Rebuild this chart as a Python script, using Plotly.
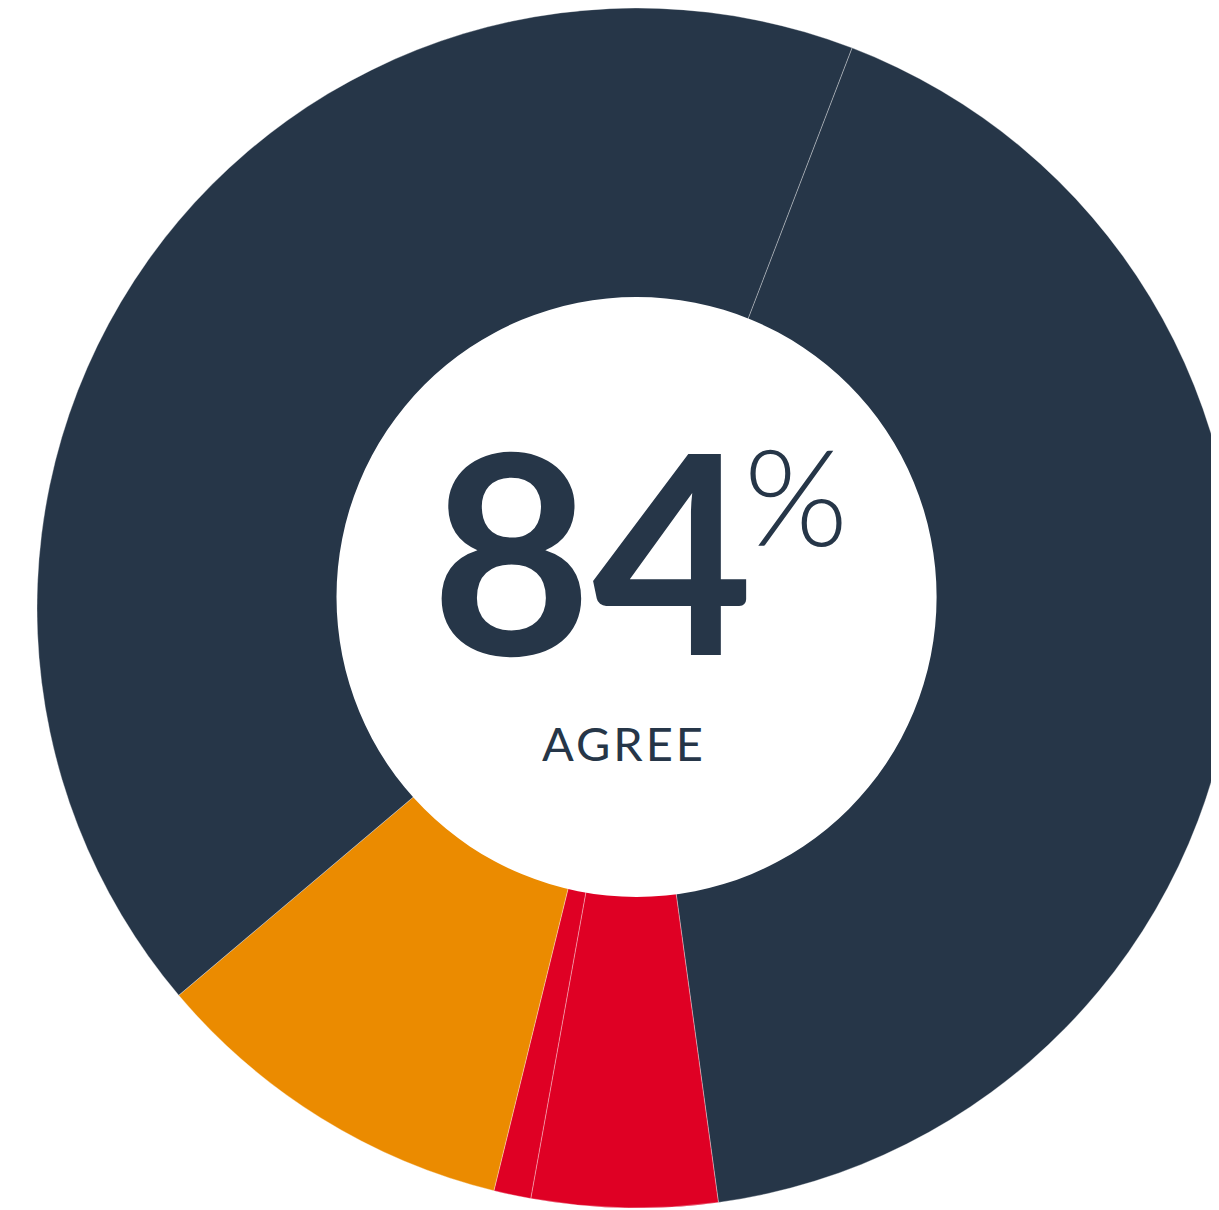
import plotly.graph_objects as go

# Data
labels = ["Agree", "Disagree", "Strongly disagree", "Neutral", "Strongly agree"]
values = [42, 5, 1, 10, 42]
colors = ["#263648", "#DF0024", "#DF0024", "#EB8B00", "#263648"]
agree_total = 84
center_label = "AGREE"

DARK = "#263648"

fig = go.Figure()

fig.add_trace(go.Pie(
    labels=labels,
    values=values,
    marker=dict(colors=colors, line=dict(color="rgba(255,255,255,0.55)", width=0.6)),
    sort=False,
    direction="clockwise",
    rotation=21,
    textinfo="none",
    hoverinfo="label+percent",
    showlegend=False,
    domain=dict(x=[0, 1], y=[0, 1]),
))

# white centre disc (slightly offset upward, as in the reference)
fig.add_trace(go.Pie(
    labels=["centre"],
    values=[1],
    marker=dict(colors=["#FFFFFF"], line=dict(width=0)),
    sort=False,
    textinfo="none",
    hoverinfo="skip",
    showlegend=False,
    domain=dict(x=[0.2611, 0.7381], y=[0.2592, 0.7592]),
))

fig.add_annotation(
    text=f"<b>{agree_total}</b>", x=0.4642, y=0.5505, xref="paper", yref="paper",
    xanchor="center", yanchor="middle", showarrow=False, width=312, align="center",
    font=dict(family="Lato", size=278, color=DARK),
)
fig.add_annotation(
    text="%", x=0.6262, y=0.5947, xref="paper", yref="paper",
    xanchor="center", yanchor="middle", showarrow=False, width=100, align="center",
    font=dict(family="Lato", size=134, color=DARK, weight=300),
)
fig.add_annotation(
    text=f"<span style='letter-spacing:3px'>{center_label}</span>",
    x=0.4893, y=0.3875, xref="paper", yref="paper",
    xanchor="center", yanchor="middle", showarrow=False,
    font=dict(family="Lato", size=47, color=DARK),
)

fig.update_layout(
    width=1258, height=1200, autosize=False,
    margin=dict(l=0, r=0, t=0, b=0),
    paper_bgcolor="white", plot_bgcolor="white",
)

fig.write_html(
    "out.html",
    post_script="document.documentElement.style.overflow='hidden';document.body.style.overflow='hidden';",
)
